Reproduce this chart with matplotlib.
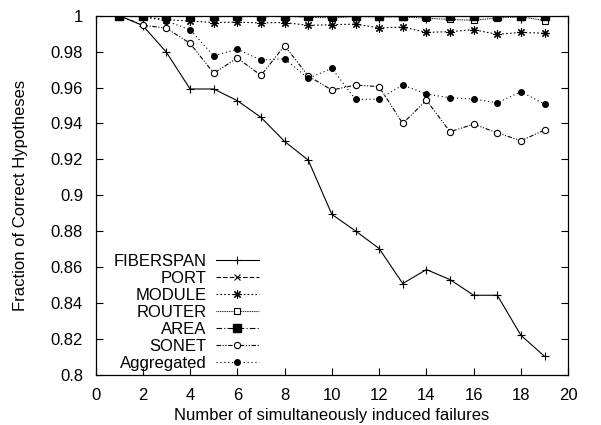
import numpy as np
import matplotlib
matplotlib.use('Agg')
import matplotlib.pyplot as plt
from matplotlib.ticker import FuncFormatter, MultipleLocator

matplotlib.rcParams['font.family'] = ['Liberation Sans', 'DejaVu Sans']
matplotlib.rcParams['font.size'] = 12

failures = list(range(1, 20))

fiberspan = [1.0, 0.9945, 0.9796, 0.9592, 0.9592, 0.9527, 0.9434, 0.9300, 0.9196, 0.8894,
             0.8802, 0.8704, 0.8509, 0.8587, 0.8531, 0.8444, 0.8444, 0.8221, 0.8104]
port = [1.0, 1.0, 0.9998, 0.9998, 0.9999, 0.9999, 0.9999, 0.9999, 0.9997, 0.9998,
        0.9998, 0.9997, 0.9998, 0.9998, 0.9997, 0.9997, 0.9998, 0.9997, 0.9996]
module = [1.0, 0.9993, 0.9978, 0.9970, 0.9962, 0.9964, 0.9960, 0.9962, 0.9946, 0.9950,
          0.9953, 0.9932, 0.9937, 0.9907, 0.9911, 0.9922, 0.9896, 0.9907, 0.9902]
router = [1.0, 1.0, 1.0, 1.0, 0.9999, 0.9999, 0.9999, 0.9998, 0.9991, 0.9988,
          0.9995, 0.9993, 0.9993, 0.9986, 0.9979, 0.9975, 0.9987, 0.9994, 0.9973]
area = [1.0] * 19
sonet = [1.0, 0.9948, 0.9930, 0.9846, 0.9680, 0.9764, 0.9668, 0.9833, 0.9664, 0.9586,
         0.9614, 0.9605, 0.9400, 0.9530, 0.9354, 0.9396, 0.9348, 0.9304, 0.9363]
aggregated = [1.0, 0.9995, 0.9970, 0.9922, 0.9777, 0.9813, 0.9753, 0.9760, 0.9651, 0.9707,
              0.9534, 0.9536, 0.9614, 0.9564, 0.9543, 0.9536, 0.9515, 0.9577, 0.9508]

fig = plt.figure(figsize=(6.01, 4.25), dpi=100)
ax = fig.add_axes([0.159, 0.1176, 0.7864, 0.8455])

lw = 0.8
ms = 5
ax.plot(failures, fiberspan, color='k', lw=lw, ls='-', marker='+', ms=ms+1, mew=0.8, label='FIBERSPAN')
ax.plot(failures, port, color='k', lw=lw, ls=(0, (4, 2)), marker='x', ms=ms, mew=0.8, label='PORT')
ax.plot(failures, module, color='k', lw=lw, ls=(0, (1.5, 2)), marker=(8, 2, 0), ms=ms+1, mew=0.8, label='MODULE')
ax.plot(failures, router, color='k', lw=lw, ls=(0, (0.8, 0.8)), marker='s', ms=ms, mew=0.8, mfc='white', label='ROUTER')
ax.plot(failures, area, color='k', lw=lw, ls=(0, (5, 2, 1, 2)), marker='s', ms=ms+0.3, label='AREA')
ax.plot(failures, sonet, color='k', lw=lw, ls=(0, (4, 1.5, 1, 1.5, 1, 1.5)), marker='o', ms=ms-0.5, mew=0.8, mfc='white', label='SONET')
ax.plot(failures, aggregated, color='k', lw=lw, ls=(0, (1, 2.5)), marker='o', ms=ms-1, label='Aggregated')

ax.set_xlim(0, 20)
ax.set_ylim(0.8, 1.0)
ax.xaxis.set_major_locator(MultipleLocator(2))
ax.yaxis.set_major_locator(MultipleLocator(0.02))
ax.yaxis.set_major_formatter(FuncFormatter(lambda v, p: '%g' % round(v, 2)))
ax.tick_params(direction='in', top=True, right=True, length=5, width=0.8, pad=9)
for s in ax.spines.values():
    s.set_linewidth(0.9)

ax.set_xlabel('Number of simultaneously induced failures', labelpad=4)
ax.set_ylabel('Fraction of Correct Hypotheses', labelpad=16)

leg = ax.legend(loc='lower right', bbox_to_anchor=(0.3455, 0.012), markerfirst=False,
                frameon=False, borderpad=0, borderaxespad=0, handlelength=2.6,
                handletextpad=0.55, labelspacing=0.12)

fig.savefig('out.png', dpi=100)
